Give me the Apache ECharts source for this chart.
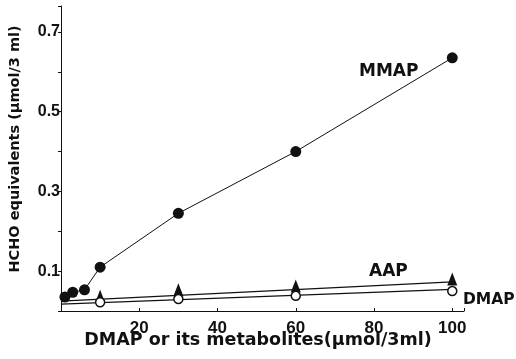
<!DOCTYPE html>
<html><head><meta charset="utf-8">
<script src="https://cdn.jsdelivr.net/npm/echarts@6/dist/echarts.min.js"></script>
<style>html,body{margin:0;padding:0;background:#fff}#c{width:516px;height:359px}</style>
</head><body><div id="c"></div>
<script>
const mmapX = [1, 3, 6, 10, 30, 60, 100];
const mmapY = [0.035, 0.047, 0.053, 0.11, 0.245, 0.40, 0.635];
const aapX = [10, 30, 60, 100];
const aapY = [0.037, 0.053, 0.063, 0.08];
const dmapX = [10, 30, 60, 100];
const dmapY = [0.022, 0.030, 0.038, 0.050];
const aapLineX = [0, 100];
const aapLineY = [0.025, 0.073];
const dmapLineX = [0, 100];
const dmapLineY = [0.017, 0.054];
const xTickLabels = [20, 40, 60, 80, 100];
const yTickLabels = [0.1, 0.3, 0.5, 0.7];
const zip = (a, b) => a.map((v, i) => [v, b[i]]);
const tickFont = '"Liberation Sans", Arial, sans-serif';
const titleFont = '"DejaVu Sans", sans-serif';
const chart = echarts.init(document.getElementById('c'));
chart.setOption({
  animation: false,
  backgroundColor: '#fff',
  grid: {left: 61, right: 52, top: 6, bottom: 48},
  xAxis: {
    type: 'value', min: 0, max: 103, interval: 20,
    axisLine: {lineStyle: {color: '#111', width: 1}},
    axisTick: {show: true, inside: true, length: 3, lineStyle: {color: '#111'}},
    splitLine: {show: false},
    axisLabel: {color: '#111', fontFamily: tickFont, fontWeight: 'bold', fontSize: 17, margin: 9,
      formatter: v => xTickLabels.includes(v) ? String(v) : ''}
  },
  yAxis: {
    type: 'value', min: 0, max: 0.765, interval: 0.1,
    axisLine: {lineStyle: {color: '#111', width: 1}},
    axisTick: {show: true, length: 3, lineStyle: {color: '#111'}},
    splitLine: {show: false},
    axisLabel: {color: '#111', fontFamily: tickFont, fontWeight: 'bold', fontSize: 16, margin: 1,
      formatter: v => {const r = Math.round(v * 10) / 10; return (yTickLabels.includes(r) && Math.abs(v - r) < 1e-6) ? String(r) : '';}}
  },
  series: [
    {type: 'line', data: zip(aapLineX, aapLineY), showSymbol: false, lineStyle: {color: '#111', width: 1.2}, z: 2},
    {type: 'line', data: zip(dmapLineX, dmapLineY), showSymbol: false, lineStyle: {color: '#111', width: 1.2}, z: 2},
    {type: 'line', data: zip(mmapX, mmapY), symbol: 'circle', symbolSize: 11,
      itemStyle: {color: '#111', opacity: 1}, lineStyle: {color: '#111', width: 1}, z: 3},
    {type: 'scatter', data: zip(aapX, aapY), symbol: 'triangle', symbolSize: [10, 13],
      itemStyle: {color: '#111', opacity: 1}, z: 4},
    {type: 'scatter', data: zip(dmapX, dmapY), symbol: 'circle', symbolSize: 9,
      itemStyle: {color: '#fff', borderColor: '#111', borderWidth: 1.5, opacity: 1}, z: 5}
  ],
  graphic: [
    {type: 'text', x: 359, y: 72, style: {text: 'MMAP', font: 'bold 17px ' + titleFont, fill: '#111', textVerticalAlign: 'middle'}},
    {type: 'text', x: 369, y: 272, style: {text: 'AAP', font: 'bold 17px ' + titleFont, fill: '#111', textVerticalAlign: 'middle'}},
    {type: 'text', x: 463, y: 300, style: {text: 'DMAP', font: 'bold 15.5px ' + titleFont, fill: '#111', textVerticalAlign: 'middle'}},
    {type: 'text', x: 258, y: 340, style: {text: 'DMAP or its metabolites(μmol/3ml)', font: 'bold 17.5px ' + titleFont, fill: '#111', textAlign: 'center', textVerticalAlign: 'middle'}},
    {type: 'text', x: 15, y: 149, rotation: Math.PI / 2, style: {text: 'HCHO equivalents (μmol/3 ml)', font: 'bold 14.5px ' + titleFont, fill: '#111', textAlign: 'center', textVerticalAlign: 'middle'}}
  ]
});
</script></body></html>
